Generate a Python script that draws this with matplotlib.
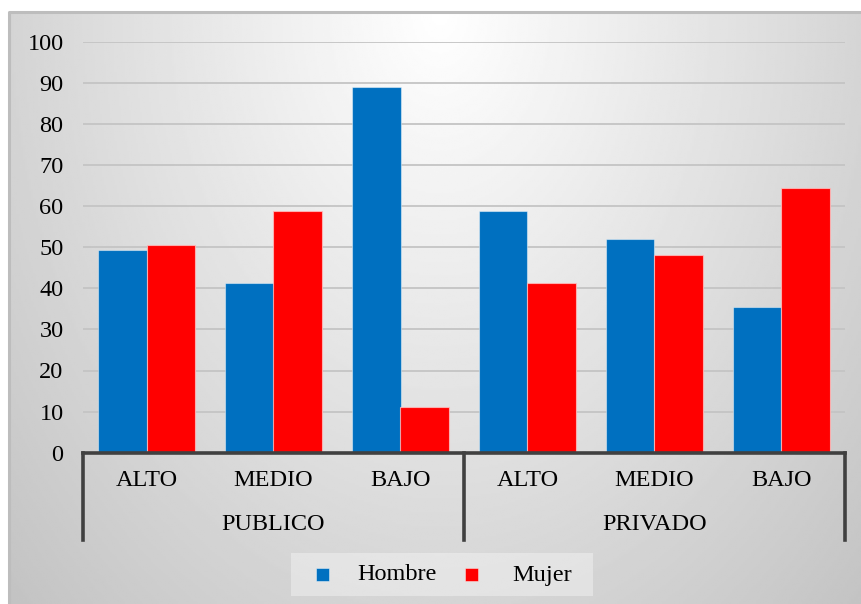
import numpy as np
import matplotlib
matplotlib.use("Agg")
import matplotlib.pyplot as plt
from matplotlib.lines import Line2D
from matplotlib.patches import Rectangle

plt.rcParams['font.family'] = ['Liberation Serif', 'DejaVu Serif']

# ── Data ─────────────────────────────────────────────────────
sectors   = ["PUBLICO", "PRIVADO"]
levels    = ["ALTO", "MEDIO", "BAJO"]
hombre    = [49.4, 41.2, 88.9, 58.8, 51.9, 35.5]
mujer     = [50.6, 58.8, 11.1, 41.2, 48.1, 64.5]
y_ticks   = list(range(0, 101, 10))

BLUE = "#0070C0"
RED  = "#FF0000"
GRID = "#C4C4C4"
AXIS = "#404040"
FS   = 17.5

W, H = 861, 604
fig = plt.figure(figsize=(W / 100, H / 100), dpi=100, facecolor="white")

# ── Background panel with radial shading ─────────────────────
bg = fig.add_axes([9 / W, 0, 1 - 9 / W, (H - 12) / H])
bg.set_axis_off()
gx, gy = np.meshgrid(np.linspace(9, W, 400), np.linspace(12, H, 300))
d = np.sqrt(((gx - 440) / 500) ** 2 + ((gy - 12) / 700) ** 2)
shade = 1 - 0.235 * np.clip(d / 1.2, 0, 1)
bg.imshow(shade, cmap="gray", vmin=0, vmax=1, aspect="auto",
          extent=[0, 1, 0, 1], origin="upper")
bg.set_xlim(0, 1)
bg.set_ylim(0, 1)
bg.plot([0, 0, 1], [0, 1, 1], color="#BDBDBD", lw=2.2, clip_on=False)

# ── Bars ─────────────────────────────────────────────────────
ax = fig.add_axes([83 / W, 1 - 452.7 / H, (845 - 83) / W, (452.7 - 41.7) / H])
ax.patch.set_alpha(0)
x = np.arange(len(hombre))
bw = 0.38
ax.bar(x - bw / 2, hombre, bw, color=BLUE, edgecolor=(1, 1, 1, 0.45),
       linewidth=0.8, zorder=3)
ax.bar(x + bw / 2, mujer, bw, color=RED, edgecolor=(1, 0.75, 0.75, 0.8),
       linewidth=0.8, zorder=3)

ax.set_xlim(-0.5, len(hombre) - 0.5)
ax.set_ylim(0, 100)
ax.set_yticks(y_ticks)
ax.yaxis.grid(True, color=GRID, lw=1.3, zorder=0)
ax.tick_params(axis="y", length=0, labelsize=FS, pad=14)
ax.set_xticks([])
for side in ["top", "right", "left"]:
    ax.spines[side].set_visible(False)
ax.spines["bottom"].set_color(AXIS)
ax.spines["bottom"].set_linewidth(2.6)
ax.spines["bottom"].set_zorder(4)

# ── Two-level category axis ──────────────────────────────────
trans = ax.get_xaxis_transform()
for i, lvl in enumerate(levels * len(sectors)):
    ax.text(i, -0.067, lvl, transform=trans, ha="center", va="center",
            fontsize=FS)
for j, sec in enumerate(sectors):
    ax.text(j * 3 + 1, -0.174, sec, transform=trans, ha="center",
            va="center", fontsize=FS)
for xb in [-0.5, 2.5, 5.5]:
    ax.add_line(Line2D([xb, xb], [0, -0.212], transform=trans,
                       color=AXIS, lw=2.6, clip_on=False))

# ── Legend ───────────────────────────────────────────────────
leg = fig.add_axes([291 / W, 1 - 596 / H, (593 - 291) / W, (596 - 553) / H])
leg.set_xlim(0, 302)
leg.set_ylim(0, 43)
leg.set_axis_off()
leg.add_patch(Rectangle((0, 0), 302, 43, facecolor="white", alpha=0.35,
                        edgecolor="none"))
for mx, tx, col, lbl in [(31, 66, BLUE, "Hombre"), (180, 221, RED, "Mujer")]:
    leg.add_patch(Rectangle((mx - 6.5, 15), 13, 13, facecolor=col,
                            edgecolor=(1, 1, 1, 0.5), lw=0.6))
    leg.text(tx, 21, lbl, ha="left", va="center", fontsize=FS)

fig.savefig("out.png", dpi=100, facecolor="white")
